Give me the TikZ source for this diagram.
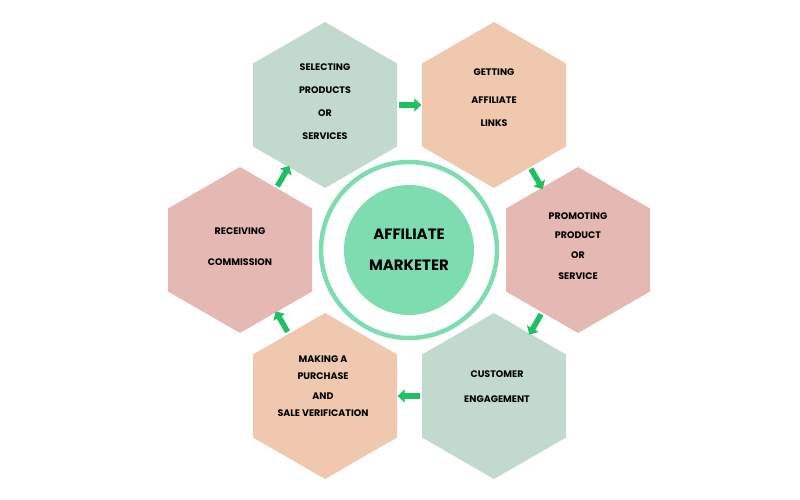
\documentclass[tikz,border=0pt]{standalone}
\usepackage{fontspec}
\setmainfont{Poppins}
\usetikzlibrary{calc,arrows.meta}
\definecolor{hgreen}{HTML}{C2DACE}
\definecolor{hpeach}{HTML}{EFC8AE}
\definecolor{hpink}{HTML}{E5B8B4}
\definecolor{mint}{HTML}{7EDDB0}
\definecolor{arr}{HTML}{1FBF63}
\tikzset{
  lbl/.style={font=\bfseries\fontsize{9.5}{11}\selectfont, align=center, text=black},
  flow/.style={arr, line width=5.5pt, -{Triangle[length=7pt,width=13pt]}},
}
\newcommand{\hexa}[3]{\fill[#3] (#1,#2) +(0,-83) -- +(72,-41.5) -- +(72,41.5) -- +(0,83) -- +(-72,41.5) -- +(-72,-41.5) -- cycle;}
\begin{document}
\begin{tikzpicture}[x=1pt,y=-1pt]
\useasboundingbox (0,0) rectangle (800,500);
\hexa{325}{105}{hgreen}
\hexa{494}{105}{hpeach}
\hexa{578}{250}{hpink}
\hexa{494}{396}{hgreen}
\hexa{325}{396}{hpeach}
\hexa{240}{250}{hpink}
\node[lbl] (tl) at (325,102) {SELECTING\\[12pt]PRODUCTS\\[12pt]OR\\[12pt]SERVICES};
\node[lbl] (tr) at (494,98) {GETTING\\[17pt]AFFILIATE\\[12pt]LINKS};
\node[lbl] (r) at (578,246) {PROMOTING\\[8pt]PRODUCT\\[9pt]OR\\[10pt]SERVICE};
\node[lbl] (br) at (497,387) {CUSTOMER\\[14pt]ENGAGEMENT};
\node[lbl] (bl) at (323,386) {MAKING A\\[6pt]PURCHASE\\[9pt]AND\\[6pt]SALE VERIFICATION};
\node[lbl] (l) at (240,247) {RECEIVING\\[20pt]COMMISSION};
\draw[mint, line width=4.5pt, fill=white] (409,250) circle (88);
\node[circle, fill=mint, minimum size=130pt, inner sep=0pt, align=center,
  font=\bfseries\fontsize{15}{17}\selectfont] (c) at (409,250) {AFFILIATE\\[14pt]MARKETER};
\coordinate (tlc) at (325,105); \coordinate (trc) at (494,105);
\coordinate (rc) at (578,250); \coordinate (brc) at (494,396);
\coordinate (blc) at (325,396); \coordinate (lc) at (240,250);
\draw[flow] ($(tlc)!0.44!(trc)$) -- ($(tlc)!0.57!(trc)$);
\draw[flow] ($(trc)!0.44!(rc)$) -- ($(trc)!0.58!(rc)$);
\draw[flow] ($(rc)!0.44!(brc)$) -- ($(rc)!0.58!(brc)$);
\draw[flow] ($(brc)!0.44!(blc)$) -- ($(brc)!0.57!(blc)$);
\draw[flow] ($(blc)!0.44!(lc)$) -- ($(blc)!0.58!(lc)$);
\draw[flow] ($(lc)!0.44!(tlc)$) -- ($(lc)!0.58!(tlc)$);
\end{tikzpicture}
\end{document}
